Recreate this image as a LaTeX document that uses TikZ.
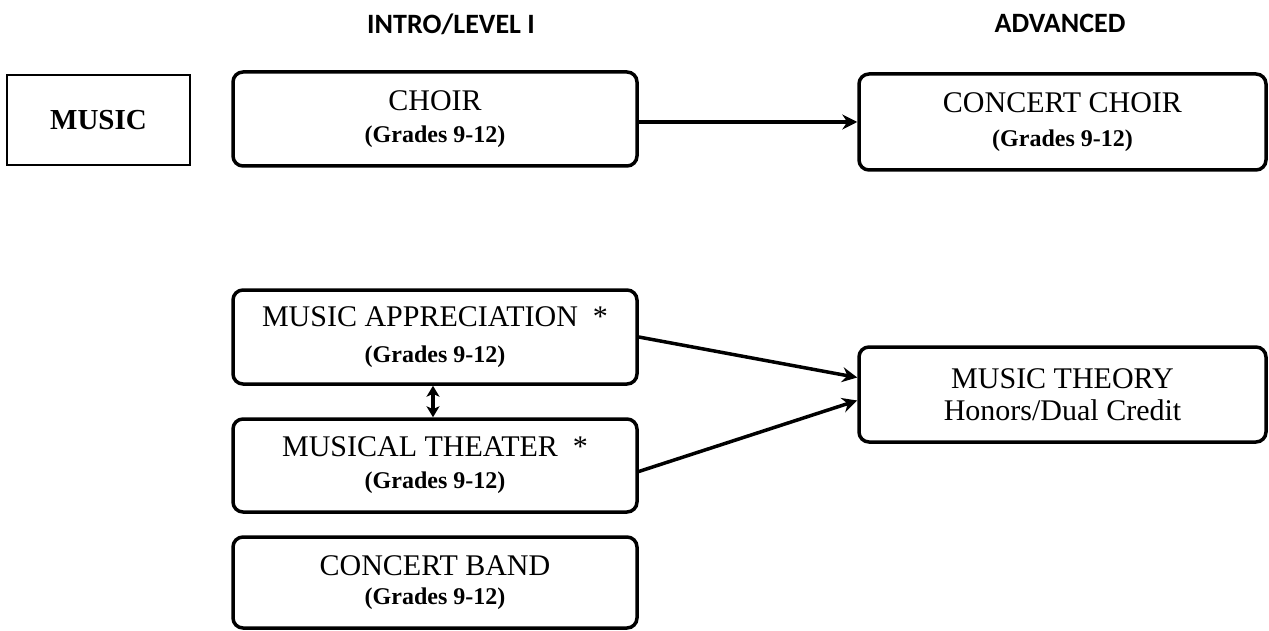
\documentclass[tikz,border=0pt]{standalone}
\usepackage{fontspec}
\setmainfont{Liberation Serif}
\newfontfamily\hdrfont{Carlito}
\usetikzlibrary{arrows.meta}
\tikzset{
  course/.style={draw, line width=3.5pt, rounded corners=10pt, minimum width=404pt,
    minimum height=94pt, align=center, inner sep=0pt,
    font=\fontsize{30}{33}\selectfont},
  subj/.style={draw, line width=1.5pt, minimum width=183pt, minimum height=90pt,
    inner sep=0pt, font=\fontsize{29}{32}\selectfont\bfseries},
  hdr/.style={font=\hdrfont\fontsize{28}{30}\selectfont\bfseries, inner sep=0pt},
  conn/.style={line width=3.5pt, -{Stealth[length=15pt,width=15pt,inset=5pt]}},
  dconn/.style={line width=4pt, {Stealth[length=11pt,width=13pt,inset=3pt]}-{Stealth[length=11pt,width=13pt,inset=3pt]}}
}
\newcommand{\grd}{{\fontsize{24}{28}\selectfont\bfseries (Grades 9-12)}}
\begin{document}
\begin{tikzpicture}[x=1pt,y=-1pt]
\useasboundingbox (0,0) rectangle (1269,631);
\node[hdr] (h1) at (451,24) {INTRO/LEVEL I};
\node[hdr] (h2) at (1060,23) {ADVANCED};
\node[subj] (music) at (98.5,120) {MUSIC};
\node[course] (choir) at (435,119) {CHOIR\\[-1pt]\grd};
\node[course, minimum width=407pt, minimum height=96pt] (cchoir) at (1062.5,122) {CONCERT CHOIR\\[1pt]\grd};
\node[course] (ma) at (435,337) {MUSIC APPRECIATION \ *\\[3pt]\grd};
\node[course, minimum height=93pt] (mt) at (435,465.5) {MUSICAL THEATER \ *\\[-1pt]\grd};
\node[course, minimum height=91pt] (cb) at (435,582.5) {CONCERT BAND\\[-4pt]\grd};
\node[course, minimum width=407pt, minimum height=95pt] (mth) at (1062.5,394.5) {MUSIC THEORY\\[-1pt]Honors/Dual Credit};
\draw[conn] (choir.east |- cchoir.west) -- (cchoir.west);
\draw[conn] (ma.east) -- ([yshift=17pt]mth.west);
\draw[conn] ([yshift=-6pt]mt.east) -- ([yshift=-6pt]mth.west);
\draw[dconn] ([xshift=-2pt]ma.south) -- ([xshift=-2pt]mt.north);
\end{tikzpicture}
\end{document}
